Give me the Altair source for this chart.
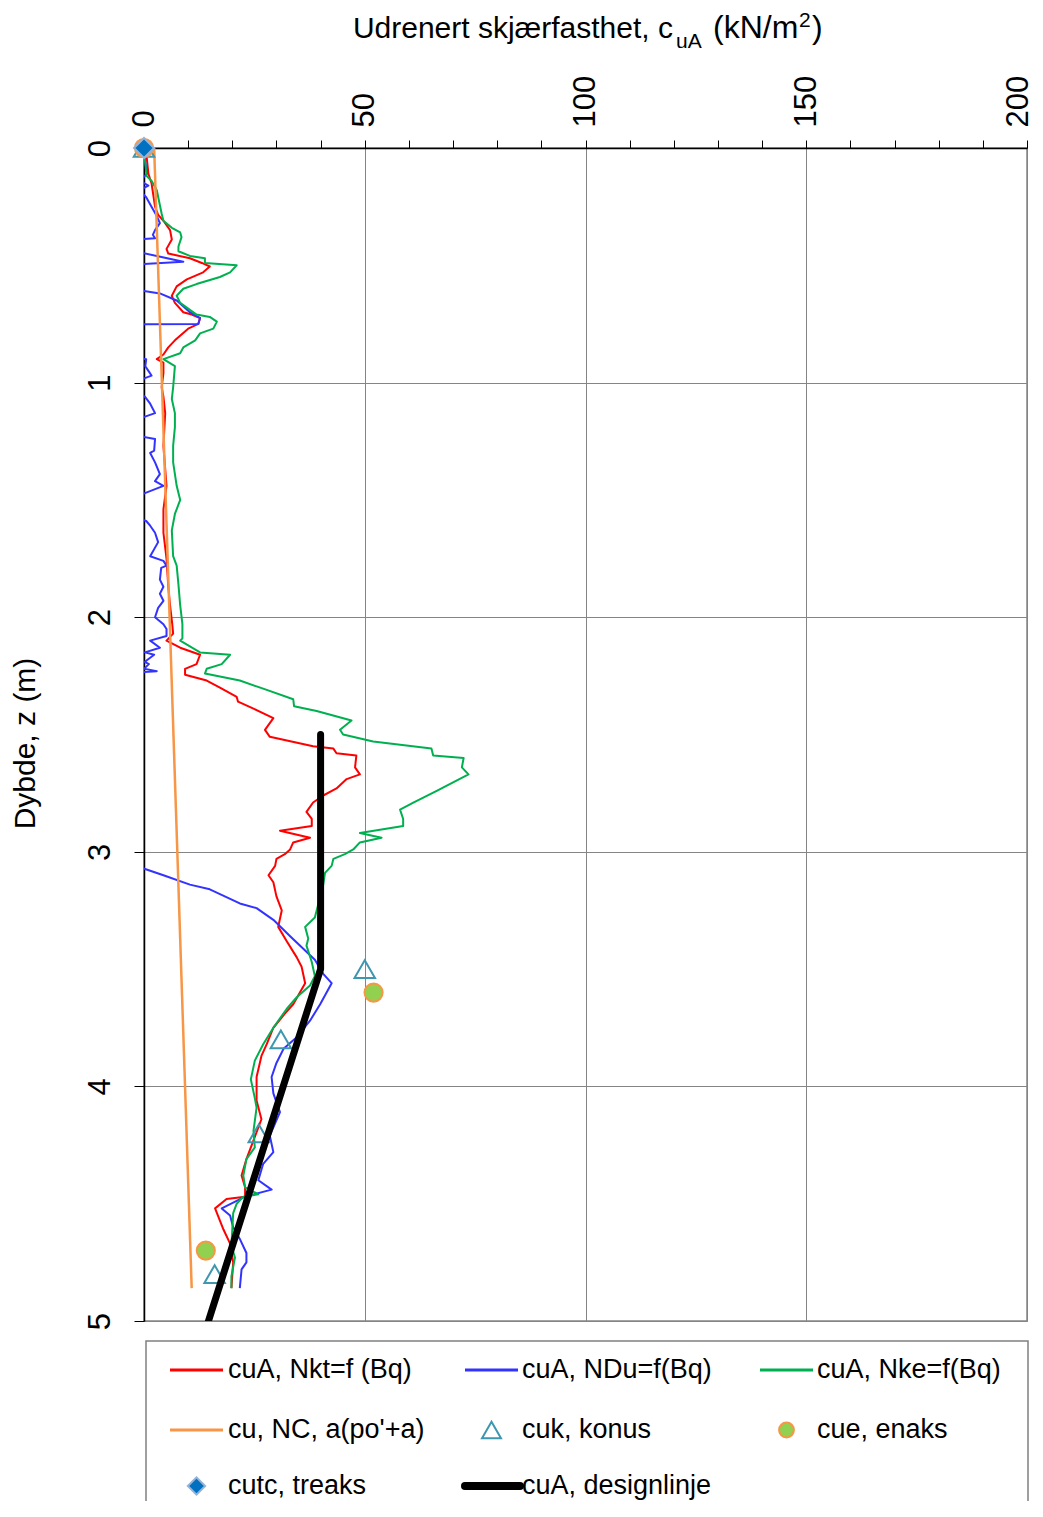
import altair as alt
import pandas as pd

FONT = "Liberation Sans"

# ---------------- data: (depth m, shear strength kN/m2) ----------------
red_nkt = [(0.02,0.5),(0.11,1.0),(0.15,1.7),(0.25,2.5),(0.285,3.2),(0.31,4.4),(0.35,5.9),(0.39,6.3),(0.43,5.1),(0.45,5.5),
           (0.47,10.4),(0.49,13.1),(0.505,14.9),(0.53,13.4),(0.56,9.7),(0.59,7.4),(0.63,6.3),(0.66,7.0),(0.70,8.9),(0.71,10.8),
           (0.725,12.7),(0.75,12.3),(0.77,10.0),(0.82,7.0),(0.85,5.5),(0.88,4.4),(0.90,2.9),(0.915,4.4),(0.96,4.4),(1.02,4.0),
           (1.06,4.4),(1.13,4.8),(1.27,4.4),(1.44,5.1),(1.54,4.4),(1.64,4.4),(1.75,5.1),(1.87,5.5),(1.95,5.9),(2.03,6.4),
           (2.07,6.6),(2.10,5.1),(2.13,8.2),(2.16,12.7),(2.20,11.9),(2.22,9.3),(2.245,9.3),(2.27,14.2),(2.30,17.2),(2.34,21.0),
           (2.36,21.3),(2.39,24.8),(2.43,29.3),(2.48,27.4),(2.51,28.5),(2.55,38.3),(2.56,42.9),(2.58,43.6),(2.59,48.1),(2.64,47.8),
           (2.67,48.9),(2.69,45.9),(2.73,43.6),(2.76,40.6),(2.79,38.3),(2.83,36.8),(2.86,38.0),(2.89,38.0),(2.91,30.8),(2.94,37.6),
           (2.96,33.8),(2.99,33.1),(3.01,31.9),(3.03,30.0),(3.06,29.7),(3.10,28.2),(3.13,29.3),(3.19,30.0),(3.25,31.2),(3.32,30.4),
           (3.38,32.3),(3.45,34.6),(3.49,35.7),(3.56,36.5),(3.65,33.8),(3.69,31.9),(3.75,29.3),(3.82,27.8),(3.87,26.6),(3.96,25.5),
           (4.06,25.5),(4.14,26.6),(4.23,24.8),(4.31,23.2),(4.38,22.1),(4.43,22.9),(4.47,22.9),(4.48,18.7),(4.52,16.1),(4.61,18.0),
           (4.67,19.5),(4.75,20.2),(4.86,19.8)]

blue_ndu = [(0.02,0.2),(0.05,0.2),(0.11,0.7),(0.14,-1.0),(0.16,1.0),(0.18,-1.0),(0.21,0.5),(0.25,1.7),(0.29,2.9),(0.32,3.6),
            (0.35,2.5),(0.37,2.0),(0.385,2.5),(0.39,-2.0),(0.44,-2.0),(0.485,8.9),(0.50,-5.0),(0.60,-5.0),(0.61,0.0),(0.62,3.6),
            (0.65,7.4),(0.70,10.4),(0.725,12.7),(0.75,12.3),(0.752,-5.0),(0.89,-5.0),(0.90,0.5),(0.93,0.3),(0.95,1.0),(0.97,1.7),
            (0.99,-1.0),(1.05,-1.0),(1.06,0.2),(1.09,1.4),(1.13,2.5),(1.15,-0.5),(1.23,-0.5),(1.24,2.5),(1.29,2.3),(1.30,1.4),
            (1.34,2.5),(1.39,3.6),(1.42,2.5),(1.44,4.4),(1.48,-1.0),(1.58,-1.0),(1.59,0.5),(1.61,1.4),(1.64,2.5),(1.68,3.2),
            (1.74,1.4),(1.76,4.4),(1.78,5.1),(1.79,3.9),(1.84,3.6),(1.87,4.4),(1.90,3.6),(1.93,4.4),(1.96,3.2),(2.00,2.5),
            (2.03,4.4),(2.05,5.1),(2.08,5.1),(2.10,1.4),(2.13,3.6),(2.15,0.2),(2.16,2.3),(2.19,0.2),(2.20,1.1),(2.22,0.0),
            (2.23,2.9),(2.24,-5.0),(3.04,-5.0),(3.10,4.4),(3.14,10.4),(3.16,14.9),(3.22,21.7),(3.24,25.5),(3.29,29.3),(3.36,33.1),
            (3.46,38.7),(3.52,40.6),(3.56,42.5),(3.65,39.9),(3.72,37.6),(3.79,34.6),(3.84,31.6),(3.90,30.0),(3.96,28.9),(4.03,29.3),
            (4.11,30.8),(4.21,28.5),(4.28,29.3),(4.33,27.0),(4.40,25.9),(4.44,28.9),(4.47,22.9),(4.52,17.6),(4.55,19.5),(4.60,20.2),
            (4.65,21.7),(4.71,23.2),(4.75,23.2),(4.78,22.1),(4.86,21.7)]

green_nke = [(0.02,0.2),(0.05,0.2),(0.12,0.6),(0.14,1.7),(0.18,2.9),(0.28,4.0),(0.31,4.4),(0.34,6.3),(0.36,8.2),(0.38,8.5),
             (0.42,7.8),(0.44,7.8),(0.46,10.4),(0.47,13.8),(0.49,13.8),(0.50,21.0),(0.53,19.5),(0.55,17.2),(0.58,11.9),(0.60,8.9),
             (0.63,7.4),(0.66,8.2),(0.69,10.4),(0.71,11.9),(0.72,14.9),(0.74,16.5),(0.77,15.7),(0.79,12.7),(0.82,11.6),(0.85,8.9),
             (0.875,8.2),(0.90,4.4),(0.93,7.0),(1.02,6.6),(1.07,6.3),(1.13,7.0),(1.19,7.0),(1.27,6.6),(1.34,6.6),(1.44,7.4),
             (1.50,8.2),(1.56,7.0),(1.63,6.3),(1.74,6.6),(1.78,7.4),(1.86,7.8),(1.95,8.2),(2.03,8.7),(2.09,8.7),(2.10,8.2),
             (2.15,12.7),(2.16,19.5),(2.20,17.6),(2.22,14.2),(2.24,13.8),(2.27,21.7),(2.31,27.8),(2.35,33.8),(2.38,34.0),(2.40,39.1),
             (2.44,47.0),(2.48,44.4),(2.50,45.1),(2.53,51.9),(2.56,65.1),(2.59,65.5),(2.60,72.4),(2.64,72.0),(2.67,73.5),(2.74,66.3),
             (2.79,61.0),(2.82,58.0),(2.86,58.7),(2.89,58.7),(2.92,48.9),(2.94,53.8),(2.96,48.9),(2.99,47.4),(3.01,45.5),(3.03,42.9),
             (3.06,42.5),(3.09,41.0),(3.14,40.6),(3.28,38.7),(3.32,36.5),(3.37,37.2),(3.40,36.8),(3.47,38.0),(3.53,38.7),(3.57,37.6),
             (3.62,34.6),(3.67,32.3),(3.75,29.3),(3.82,27.0),(3.89,25.1),(3.97,24.2),(4.05,25.1),(4.09,25.5),(4.19,24.8),(4.26,25.1),
             (4.31,23.2),(4.38,22.5),(4.43,22.9),(4.46,25.9),(4.47,22.5),(4.50,21.0),(4.54,20.2),(4.68,19.8),(4.73,20.6),(4.81,19.8),
             (4.86,19.8)]

orange_nc = [(0.0, 2.3), (4.86, 10.8)]
design_line = [(2.5, 40.0), (3.5, 40.0), (5.0, 14.6)]
cuk_konus = [(0.0, 0.0), (3.5, 50.0), (3.8, 31.0), (4.2, 26.0), (4.8, 16.0)]
cue_enaks = [(0.0, 0.0), (3.6, 52.0), (4.7, 14.0)]
cutc_treaks = [(0.0, 0.0)]

x_ticks = list(range(0, 201, 10))
y_ticks = [0, 1, 2, 3, 4, 5]
title_parts = ["Udrenert skjærfasthet, c", "uA", "(kN/m", "2", ")"]
y_title = "Dybde, z (m)"
legend_labels = ["cuA, Nkt=f (Bq)", "cuA, NDu=f(Bq)", "cuA, Nke=f(Bq)",
                 "cu, NC, a(po'+a)", "cuk, konus", "cue, enaks",
                 "cutc, treaks", "cuA, designlinje"]

# ---------------- helpers ----------------
def frame(pts):
    return pd.DataFrame({"d": [p[0] for p in pts], "v": [p[1] for p in pts], "i": list(range(len(pts)))})

RED, BLUE, GREEN, ORANGE = "#FF0000", "#3333FF", "#00B050", "#F79646"
TRI, CIRC_FILL, CIRC_STROKE = "#3E97AE", "#92D050", "#F79646"
DIA_FILL, DIA_STROKE = "#0070C0", "#95B3D7"
GRID = "#858585"

x_axis = alt.Axis(orient="top", values=x_ticks, title=None,
                  labelExpr="datum.value % 50 === 0 ? datum.label : ''",
                  labelAngle=270, labelAlign="left", labelBaseline="middle",
                  labelOffset={"condition": {"test": "datum.value === 200", "value": -9}, "value": 0},
                  labelPadding=13, labelFontSize=31, labelColor="black", labelFont=FONT,
                  labelFlush=False, labelOverlap=False, labelBound=False,
                  tickSize=8, tickColor="black", tickWidth=1,
                  domainColor="black", domainWidth=1.5,
                  grid=True, gridColor=GRID, gridWidth=1,
                  gridOpacity={"condition": {"test": "datum.value % 50 === 0", "value": 1}, "value": 0})
y_axis = alt.Axis(orient="left", values=y_ticks, title=y_title,
                  titleFontSize=30, titleFontWeight="normal", titleFont=FONT, titleColor="black",
                  titleAngle=270, titleX=-110, titleY=595, titleAlign="center", titleBaseline="alphabetic",
                  labelAngle=270, labelAlign="center", labelBaseline="alphabetic",
                  labelPadding=25, labelFontSize=31, labelColor="black", labelFont=FONT,
                  labelFlush=False, labelOverlap=False,
                  tickSize=10, tickColor="black", tickWidth=1,
                  domainColor="black", domainWidth=1.5,
                  grid=True, gridColor=GRID, gridWidth=1)

X = alt.X("v:Q", scale=alt.Scale(domain=[0, 200], nice=False, zero=False), axis=x_axis)
Y = alt.Y("d:Q", scale=alt.Scale(domain=[0, 5], nice=False, zero=False, reverse=True), axis=y_axis)
O = alt.Order("i:Q")

def line(pts, color, width, cap="butt"):
    return alt.Chart(frame(pts)).mark_line(color=color, strokeWidth=width, clip=True,
                                           strokeCap=cap, strokeJoin="round").encode(x=X, y=Y, order=O)

layers = [
    line(red_nkt, RED, 2),
    line(blue_ndu, BLUE, 2),
    line(green_nke, GREEN, 2),
    line(orange_nc, ORANGE, 2.5),
    alt.Chart(frame(cuk_konus)).mark_point(shape="triangle-up", filled=False, stroke=TRI, strokeWidth=2,
                                           size=420, clip=False, opacity=1).encode(x=X, y=Y),
    alt.Chart(frame(cue_enaks)).mark_point(shape="circle", filled=True, fill=CIRC_FILL, stroke=CIRC_STROKE,
                                           strokeWidth=2, size=330, clip=False, opacity=1).encode(x=X, y=Y),
    alt.Chart(frame(cutc_treaks)).mark_point(shape="diamond", filled=True, fill=DIA_FILL, stroke=DIA_STROKE,
                                             strokeWidth=2, size=400, clip=False, opacity=1).encode(x=X, y=Y),
    line(design_line, "black", 7, cap="round"),
]

# ---------------- title with subscript / superscript ----------------
one = pd.DataFrame({"t": [0]})
def text_layer(txt, x, y, size, align="left", baseline="alphabetic"):
    return alt.Chart(one).mark_text(text=txt, align=align, baseline=baseline, fontSize=size,
                                    font=FONT, color="black").encode(x=alt.value(x), y=alt.value(y))

layers += [
    text_layer(title_parts[0], 529, -110, 30, align="right"),
    text_layer(title_parts[1], 532, -100, 21),
    text_layer(title_parts[2], 569, -110, 32),
    text_layer(title_parts[3], 655, -121, 21),
    text_layer(title_parts[4], 668, -110, 32),
]

# ---------------- legend (manual, 3 columns) ----------------
layers.append(alt.Chart(one).mark_rect(fillOpacity=0, stroke="#808080", strokeWidth=1.5)
              .encode(x=alt.value(2), x2=alt.value(884), y=alt.value(1193), y2=alt.value(1420)))
col_line = [(26, 79), (321, 374), (616, 669)]
col_text = [84, 378, 673]
row_y = [1222, 1282, 1338]
styles = [("line", RED, 3), ("line", BLUE, 3), ("line", GREEN, 3),
          ("line", ORANGE, 3), ("tri", None, 0), ("circ", None, 0),
          ("dia", None, 0), ("thick", "black", 8)]
for k, (lab, st) in enumerate(zip(legend_labels, styles)):
    c, r = k % 3, k // 3
    x0, x1 = col_line[c]
    cx = (x0 + x1) / 2
    yy = row_y[r]
    kind = st[0]
    if kind == "line":
        layers.append(alt.Chart(one).mark_rule(color=st[1], strokeWidth=st[2])
                      .encode(x=alt.value(x0), x2=alt.value(x1), y=alt.value(yy)))
    elif kind == "thick":
        layers.append(alt.Chart(one).mark_rule(color=st[1], strokeWidth=st[2], strokeCap="round")
                      .encode(x=alt.value(x0), x2=alt.value(x1 + 2), y=alt.value(yy)))
    elif kind == "tri":
        layers.append(alt.Chart(one).mark_point(shape="triangle-up", filled=False, stroke=TRI, strokeWidth=2,
                                                size=360, opacity=1).encode(x=alt.value(cx), y=alt.value(yy)))
    elif kind == "circ":
        layers.append(alt.Chart(one).mark_point(shape="circle", filled=True, fill=CIRC_FILL, stroke=CIRC_STROKE,
                                                strokeWidth=2, size=220, opacity=1).encode(x=alt.value(cx), y=alt.value(yy)))
    elif kind == "dia":
        layers.append(alt.Chart(one).mark_point(shape="diamond", filled=True, fill=DIA_FILL, stroke=DIA_STROKE,
                                                strokeWidth=2, size=300, opacity=1).encode(x=alt.value(cx), y=alt.value(yy)))
    layers.append(text_layer(lab, col_text[c], yy, 27, baseline="middle"))

chart = (alt.layer(*layers)
         .properties(width=883, height=1173,
                     autosize=alt.AutoSizeParams(type="none"),
                     padding={"left": 136, "top": 140, "right": 8, "bottom": 180})
         .configure(font=FONT)
         .configure_view(stroke=GRID, strokeWidth=1.5))

chart.save("out.html", embed_options={"renderer": "svg", "actions": False})
